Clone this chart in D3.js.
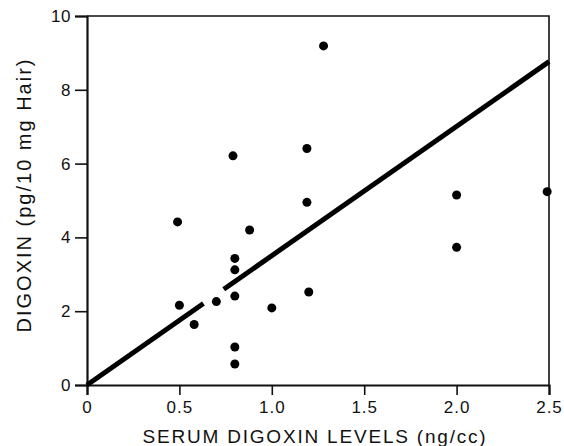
<!DOCTYPE html>
<html>
<head>
<meta charset="utf-8">
<script src="https://cdn.jsdelivr.net/npm/d3@7"></script>
<style>
  html, body { margin: 0; padding: 0; background: #fff; }
  svg { display: block; }
  text { font-family: "Liberation Sans", Arial, Helvetica, sans-serif; fill: #111; }
</style>
</head>
<body>
<svg id="chart" width="564" height="446"></svg>
<script>
// Data
const serumLevels = [0.49, 0.50, 0.58, 0.70, 0.79, 0.80, 0.80, 0.80, 0.80, 0.80, 0.88, 1.00, 1.19, 1.19, 1.20, 1.28, 2.00, 2.00, 2.49];
const hairDigoxin = [4.42, 2.16, 1.64, 2.26, 6.21, 3.43, 3.12, 2.41, 1.03, 0.57, 4.20, 2.09, 6.41, 4.95, 2.52, 9.19, 5.15, 3.73, 5.24];
// Regression line, drawn in two pieces with a small break (as in the original)
const fitSegments = [
  [[0, 0], [0.63, 0.63 * 3.505]],
  [[0.74, 0.74 * 3.505], [2.5, 2.5 * 3.505]]
];
const xTicks = [0, 0.5, 1.0, 1.5, 2.0, 2.5];
const xTickLabels = ["0", "0.5", "1.0", "1.5", "2.0", "2.5"];
const yTicks = [0, 2, 4, 6, 8, 10];
const xTitle = "SERUM DIGOXIN LEVELS (ng/cc)";
const yTitle = "DIGOXIN (pg/10 mg Hair)";

const svg = d3.select("#chart");
const mLeft = 87, mRight = 549, mTop = 16, mBottom = 385;

const x = d3.scaleLinear().domain([0, 2.5]).range([mLeft, mRight]);
const y = d3.scaleLinear().domain([0, 10]).range([mBottom, mTop]);

// Frame (top and right sides)
svg.append("path")
  .attr("d", `M${mLeft},${mTop}H${mRight}V${mBottom}`)
  .attr("fill", "none").attr("stroke", "#111").attr("stroke-width", 1.6);

// X axis
const xAxis = svg.append("g")
  .attr("transform", `translate(0,${mBottom})`)
  .call(d3.axisBottom(x).tickValues(xTicks)
    .tickFormat((d, i) => xTickLabels[i]).tickSize(10).tickPadding(6));
xAxis.select(".domain").attr("stroke", "#111").attr("stroke-width", 2.2);
xAxis.selectAll(".tick line").attr("stroke", "#111").attr("stroke-width", 1.6);
xAxis.selectAll(".tick text")
  .attr("font-size", 17).attr("letter-spacing", 1)
  .attr("font-family", "Liberation Sans, Arial, sans-serif").attr("fill", "#111");

// Y axis
const yAxis = svg.append("g")
  .attr("transform", `translate(${mLeft},0)`)
  .call(d3.axisLeft(y).tickValues(yTicks).tickFormat(d3.format("d")).tickSize(12).tickPadding(4));
yAxis.select(".domain").attr("stroke", "#111").attr("stroke-width", 2.2);
yAxis.selectAll(".tick line").attr("stroke", "#111").attr("stroke-width", 1.6);
yAxis.selectAll(".tick text")
  .attr("font-size", 17).attr("letter-spacing", 0.5)
  .attr("font-family", "Liberation Sans, Arial, sans-serif").attr("fill", "#111");

// Regression line
const line = d3.line().x(d => x(d[0])).y(d => y(d[1]));
svg.selectAll("path.fit").data(fitSegments).enter().append("path")
  .attr("class", "fit")
  .attr("d", line)
  .attr("fill", "none").attr("stroke", "#000").attr("stroke-width", 5);

// Points
svg.selectAll("circle.pt").data(serumLevels.map((v, i) => [v, hairDigoxin[i]]))
  .enter().append("circle")
  .attr("class", "pt")
  .attr("cx", d => x(d[0])).attr("cy", d => y(d[1])).attr("r", 4.5)
  .attr("fill", "#000");

// Axis titles
svg.append("text")
  .attr("x", 315).attr("y", 443)
  .attr("text-anchor", "middle")
  .attr("font-size", 19).attr("letter-spacing", 1.8)
  .text(xTitle);

svg.append("text")
  .attr("transform", "translate(31,195) rotate(-90)")
  .attr("text-anchor", "middle")
  .attr("font-size", 20).attr("letter-spacing", 2)
  .text(yTitle);
</script>
</body>
</html>
